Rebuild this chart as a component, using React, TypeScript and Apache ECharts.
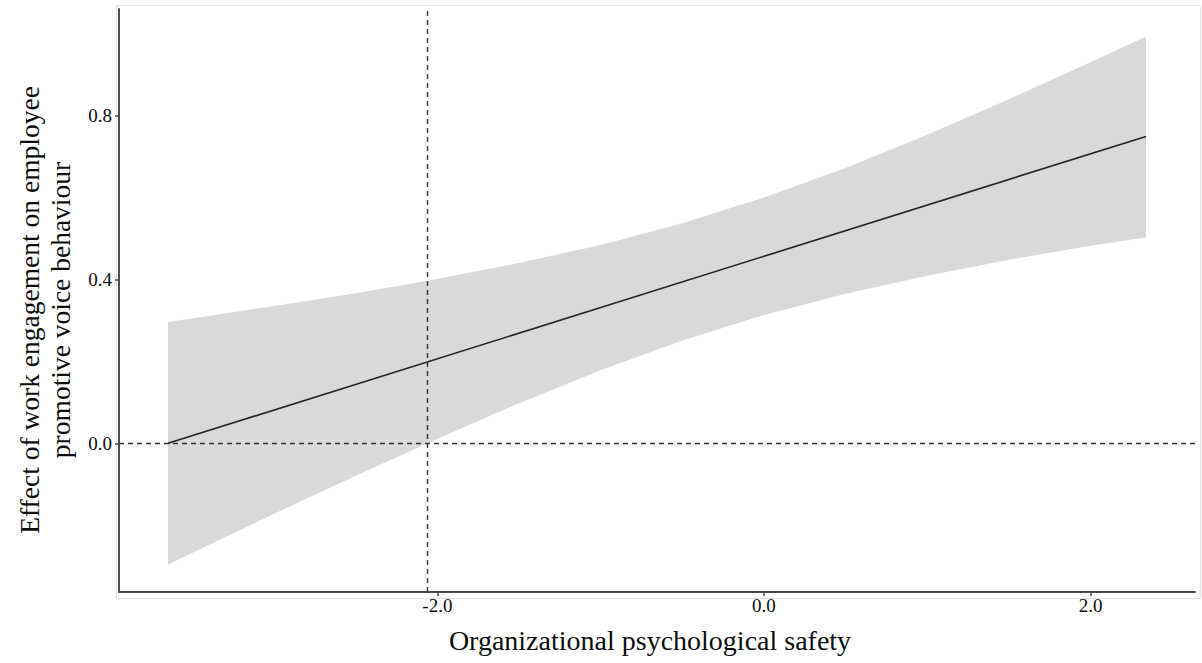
import React, { useEffect, useRef } from "react";
import * as echarts from "echarts";

// Moderator values (organizational psychological safety)
const bandX = [-3.65, -3.0, -2.5, -2.06, -1.5, -1.0, -0.5, 0.0, 0.5, 1.0, 1.5, 2.0, 2.34];
// Confidence band
const bandUpper = [0.296, 0.335, 0.366, 0.397, 0.44, 0.484, 0.537, 0.6, 0.672, 0.753, 0.84, 0.93, 0.993];
const bandLower = [-0.296, -0.172, -0.079, 0.0, 0.098, 0.178, 0.251, 0.313, 0.365, 0.409, 0.448, 0.482, 0.502];
// Simple slope line
const lineX = [-3.65, 2.34];
const lineY = [0.0, 0.749];
// Johnson-Neyman point and reference zero
const jnPoint = -2.06;
const zeroRef = 0;
// Tick values
const xTicks = [-2, 0, 2];
const yTicks = [0, 0.4, 0.8];

const xTitle = "Organizational psychological safety";
const yTitle1 = "Effect of work engagement on employee";
const yTitle2 = "promotive voice behaviour";

const FONT = "Liberation Serif";

export default function App() {
  const ref = useRef<HTMLDivElement>(null);
  useEffect(() => {
    if (!ref.current) return;
    const chart = echarts.init(ref.current, undefined, { renderer: "svg" });
    const fmt = (v: number) => "{t|" + v.toFixed(1) + "}";
    const labelStyle = {
      formatter: fmt,
      color: "#0d0d0d",
      fontSize: 19,
      fontFamily: FONT,
      rich: { t: { fontSize: 19, fontFamily: FONT, color: "#0d0d0d" } },
    };
    chart.setOption({
      animation: false,
      backgroundColor: "#ffffff",
      textStyle: { fontFamily: FONT, fontSize: 19, color: "#0d0d0d" },
      grid: { left: 119, right: 7, top: 9, bottom: 71, containLabel: false },
      xAxis: {
        type: "value",
        min: -3.95,
        max: 2.64,
        splitLine: { show: false },
        axisLine: { show: true, onZero: false, lineStyle: { color: "#4d4d4d", width: 2 } },
        axisTick: { show: true, length: 4, customValues: xTicks, lineStyle: { color: "#4d4d4d", width: 1.5 } },
        axisLabel: { ...labelStyle, customValues: xTicks, margin: 4 },
      },
      yAxis: {
        type: "value",
        min: -0.363,
        max: 1.06,
        splitLine: { show: false },
        axisLine: { show: true, onZero: false, lineStyle: { color: "#4d4d4d", width: 2 } },
        axisTick: { show: true, length: 4, customValues: yTicks, lineStyle: { color: "#4d4d4d", width: 1.5 } },
        axisLabel: { ...labelStyle, customValues: yTicks, margin: 7 },
      },
      graphic: [
        {
          type: "rect",
          shape: { x: 116.5, y: 5.5, width: 1084, height: 593 },
          style: { fill: "none", stroke: "#e2e2e2", lineWidth: 1 },
          silent: true,
          z: -1,
        },
        {
          type: "text",
          x: 650,
          y: 640,
          style: {
            text: xTitle,
            font: `28px ${FONT}`,
            fill: "#0d0d0d",
            textAlign: "center",
            textVerticalAlign: "middle",
          },
        },
        {
          type: "text",
          x: 29,
          y: 310,
          rotation: Math.PI / 2,
          style: {
            text: yTitle1,
            font: `27.5px ${FONT}`,
            fill: "#0d0d0d",
            textAlign: "center",
            textVerticalAlign: "middle",
          },
        },
        {
          type: "text",
          x: 60,
          y: 310,
          rotation: Math.PI / 2,
          style: {
            text: yTitle2,
            font: `27.5px ${FONT}`,
            fill: "#0d0d0d",
            textAlign: "center",
            textVerticalAlign: "middle",
          },
        },
      ],
      series: [
        {
          type: "custom",
          z: 1,
          silent: true,
          data: [0],
          renderItem: (_params: any, api: any) => {
            const pts: number[][] = [];
            for (let i = 0; i < bandX.length; i++) pts.push(api.coord([bandX[i], bandUpper[i]]));
            for (let i = bandX.length - 1; i >= 0; i--) pts.push(api.coord([bandX[i], bandLower[i]]));
            return {
              type: "polygon",
              shape: { points: pts },
              style: { fill: "#d9d9d9", stroke: "none" },
            };
          },
        },
        {
          type: "line",
          z: 3,
          silent: true,
          symbol: "none",
          data: lineX.map((x, i) => [x, lineY[i]]),
          lineStyle: { color: "#222", width: 1.6 },
          markLine: {
            silent: true,
            symbol: "none",
            label: { show: false },
            lineStyle: { color: "#333", width: 1.4, type: [5, 4] },
            data: [{ yAxis: zeroRef }, { xAxis: jnPoint }],
            z: 2,
          },
        },
      ],
    });
    return () => chart.dispose();
  }, []);
  return (
    <div
      ref={ref}
      style={{ position: "fixed", left: 0, top: 0, width: 1202, height: 663, background: "#fff" }}
    />
  );
}
